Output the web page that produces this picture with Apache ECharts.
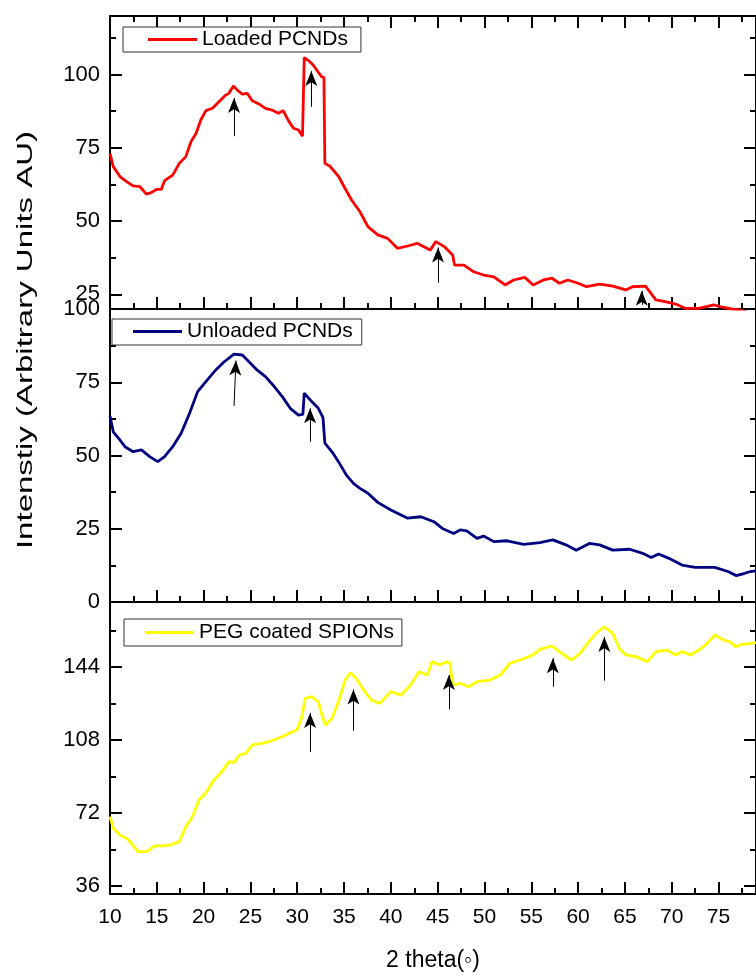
<!DOCTYPE html>
<html><head><meta charset="utf-8">
<script src="https://cdn.jsdelivr.net/npm/echarts@6/dist/echarts.min.js"></script>
<style>html,body{margin:0;padding:0;background:#fff}#c{width:756px;height:976px}</style>
</head><body><div id="c"></div>
<script>
// ---------- data ----------
const loadedTheta = [10,10.35,11.06,11.77,12.47,13.18,13.89,14.4,14.95,15.47,15.83,16.7,17.4,18.1,18.65,19.2,19.7,20.24,20.95,21.66,22.36,22.7,23.18,23.6,24.13,24.66,25.2,25.9,26.6,27.3,28.0,28.5,29.07,29.6,30.13,30.56,30.75,31.2,31.7,32.25,32.6,32.85,32.95,33.5,34.4,35.1,35.8,36.7,37.55,38.6,39.65,40.7,41.8,42.8,44.2,44.8,45.7,46.6,46.8,47.8,48.85,49.9,51.0,52.2,53.1,54.3,55.2,56.3,57.2,58.0,58.9,60.0,60.9,62.3,63.7,65.1,65.8,67.2,68.3,69.3,70.4,71.5,72.9,74.5,75.4,76.4,77.3,78,79];
const loadedIntensity = [73,68.6,65.2,63.5,62,61.8,59.2,59.7,60.8,60.8,63.8,65.7,69.7,72,77.1,80,84.5,87.7,88.5,90.8,93,93.6,96.1,94.7,93.3,93.6,91.1,90,88.5,87.9,86.8,87.7,84.2,81.7,81.1,79,105.8,104.8,103.3,100.8,99.3,99,69.7,68.7,65.3,61.2,57.2,53.2,48.1,45.3,44.1,40.7,41.5,42.4,40.1,43,41.3,38.4,35,35,32.7,31.6,31,28.2,29.9,30.8,28.2,29.9,30.5,28.8,29.9,28.8,27.6,28.5,27.8,26.5,27.6,27.8,23.1,22.5,21.7,20.2,20.2,21.4,20.6,20,19.6,19,18.5];

const unloadedTheta = [10,10.35,11.06,11.6,12.47,13.36,14.24,15.1,15.83,16.7,17.6,18.5,19.36,20.24,21.3,22.2,23.25,24.13,24.84,25.7,26.6,27.5,28.4,29.25,30.13,30.6,30.75,31.55,32.25,32.75,32.95,33.84,34.4,35.25,36.0,36.7,37.55,38.6,40.0,41.8,43.2,44.6,45.5,46.7,47.4,48.1,49.2,49.9,51.0,52.4,54.2,55.9,57.3,58.7,59.8,61.2,62.3,63.7,65.5,66.9,67.8,68.6,69.7,71.1,72.5,74.6,76.0,76.9,77.8,78.4,79];
const unloadedIntensity = [63.5,58.1,55.3,53,51.3,51.9,49.6,47.9,49.6,53,57.6,64.4,71.8,75.2,79.2,82,84.6,84.3,82,79.2,76.9,73.7,70.1,66.1,63.8,64,71.3,68.4,66.1,62.9,54.2,50.7,47.9,43.3,40.5,38.8,37.1,34,31.4,28.6,29.1,27.4,25.1,23.4,24.6,24.3,21.7,22.5,20.6,20.9,19.7,20.3,21.2,19.5,17.7,20,19.5,17.7,18,16.6,15.2,16.4,14.9,12.6,11.8,11.8,10.4,9,9.8,10.4,10.6];

const pegTheta = [10,10.35,11.06,11.8,12.3,13.0,13.9,14.8,15.65,16.5,17.4,18.1,18.8,19.5,20.2,21.1,21.8,22.7,23.25,23.8,24.5,25.2,26.25,26.95,28.0,29.1,29.96,30.5,30.84,31.55,32.25,32.7,33.0,33.7,34.4,35.1,35.7,36.3,37.2,37.9,38.8,40.0,41.1,42.1,43.0,43.9,44.4,45.2,46.0,46.3,46.6,47.4,48.3,49.2,50.6,51.7,52.7,53.8,55.2,55.9,57.2,58.0,59.3,60.2,61.0,61.9,62.8,63.7,64.4,65.1,66.2,67.4,68.3,69.5,70.4,71.1,72.0,72.9,73.8,74.6,75.55,76.25,76.8,77.5,78.5,79];
const pegIntensity = [70.1,64.4,61.1,59.4,57,52.9,52.9,55.7,55.7,56.2,57.8,65.2,70.1,78.4,81.6,88.2,91.5,97.3,96.8,100.5,101.4,105.5,106.3,107.1,108.8,111.2,112.9,119.4,128.5,129.3,126.8,119.4,115.3,118.6,126.8,137.5,141.1,138.3,131.8,127.7,126,131.8,130.1,135.1,141.6,140,146.6,144.9,146.6,146,135.1,135.9,134.2,136.7,137.5,140,145.7,147.4,149.9,152.6,154.3,151.5,147.4,150.7,155.6,160.5,163.8,160.5,153.1,149.9,149,146.6,151.5,152.3,149.9,151.5,149.9,152.3,155.6,159.7,157.2,156.4,154,155.1,155.6,156];

// arrows: [xFrom, yFrom, xTo, yTo]
const loadedArrows = [[23.25,79,23.25,92],[31.5,89,31.5,101.2],[45.04,29,45.04,41],[66.8,21.4,66.8,26.2]];
const unloadedArrows = [[23.25,66.9,23.45,82.4],[31.37,54.7,31.37,66.1]];
const pegArrows = [[31.37,102.1,31.37,121.3],[36.0,112.5,36.0,132.9],[46.2,123,46.2,140],[57.3,134.2,57.3,148.2],[62.8,137.2,62.8,158.8]];

// axis ticks
const loadedYTicks = [25,50,75,100];
const loadedYMinor = [37.5,62.5,87.5,112.5];
const pegYTicks = [36,72,108,144];
const pegYMinor = [54,90,126,162];

// ---------- chart ----------
const FONT = '"Liberation Sans", Arial, sans-serif';
const zip = (a,b) => a.map((v,i)=>[v,b[i]]);
const BLK = '#000';

function xAx(gi, pos, labels) {
  return {
    type:'value', gridIndex:gi, position:pos, min:10, max:79, interval:5,
    axisLine:{show:true, onZero:false, lineStyle:{color:BLK, width:2}},
    axisTick:{show:true, inside:true, length:12, lineStyle:{color:BLK, width:2}},
    minorTick:{show:true, splitNumber:2, length:6, lineStyle:{color:BLK, width:2}},
    splitLine:{show:false},
    axisLabel:{show:labels, color:BLK, fontSize:21, fontFamily:FONT, margin:13, showMaxLabel:false}
  };
}
function yCustom(gi, pos, min, max, vals, len, line, labels) {
  return {
    type:'value', gridIndex:gi, position:pos, min:min, max:max,
    axisLine:{show:line, onZero:false, lineStyle:{color:BLK, width:2}},
    axisTick:{show:true, inside:true, length:len, customValues:vals, lineStyle:{color:BLK, width:2}},
    splitLine:{show:false},
    axisLabel:{show:labels, customValues:vals, color:BLK, fontSize:22, fontFamily:FONT, margin:10}
  };
}
function yInterval(gi, pos, labels) {
  return {
    type:'value', gridIndex:gi, position:pos, min:0, max:100, interval:25,
    axisLine:{show:true, onZero:false, lineStyle:{color:BLK, width:2}},
    axisTick:{show:true, inside:true, length:12, lineStyle:{color:BLK, width:2}},
    minorTick:{show:true, splitNumber:2, length:6, lineStyle:{color:BLK, width:2}},
    splitLine:{show:false},
    axisLabel:{show:labels, color:BLK, fontSize:22, fontFamily:FONT, margin:10}
  };
}
function arrowsML(arr) {
  return {
    silent:true, symbol:['none','arrow'], symbolSize:[9,15], animation:false,
    label:{show:false}, emphasis:{disabled:true},
    lineStyle:{color:BLK, width:1, type:'solid'},
    data: arr.map(a => [{coord:[a[0],a[1]]},{coord:[a[2],a[3]]}])
  };
}
function legendFor(name, left, top, pad) {
  return {
    data:[name], left:left, top:top, orient:'horizontal', selectedMode:false,
    icon:'rect', itemWidth:49, itemHeight:3, padding:pad,
    borderColor:'#333', borderWidth:1, backgroundColor:'#fff',
    textStyle:{color:BLK, fontSize:21, fontFamily:FONT, lineHeight:21}
  };
}

const xAxes = [xAx(0,'bottom',false), xAx(0,'top',false), xAx(1,'bottom',false), xAx(2,'bottom',true)];
xAxes[3].name = '2 theta(\u25E6)';
xAxes[3].nameLocation = 'middle';
xAxes[3].nameGap = 55;
xAxes[3].nameTextStyle = {color:BLK, fontSize:23, fontFamily:FONT};

const yAxes = [
  yCustom(0,'left',20,120,loadedYTicks,12,true,true),
  yCustom(0,'left',20,120,loadedYMinor,6,false,false),
  yCustom(0,'right',20,120,loadedYTicks,12,true,false),
  yCustom(0,'right',20,120,loadedYMinor,6,false,false),
  yInterval(1,'left',true),
  yInterval(1,'right',false),
  yCustom(2,'left',32,176,pegYTicks,12,true,true),
  yCustom(2,'left',32,176,pegYMinor,6,false,false),
  yCustom(2,'right',32,176,pegYTicks,12,true,false),
  yCustom(2,'right',32,176,pegYMinor,6,false,false)
];

const chart = echarts.init(document.getElementById('c'), null, {renderer:'canvas'});
chart.setOption({
  animation:false,
  backgroundColor:'#fff',
  grid:[
    {left:110, top:16, width:651, height:293},
    {left:110, top:309, width:651, height:293},
    {left:110, top:602, width:651, height:292}
  ],
  legend:[
    legendFor('Loaded PCNDs',123,27,[2,13,2,25]),
    legendFor('Unloaded PCNDs',112,319,[2,9,3,21]),
    legendFor('PEG coated SPIONs',124,619,[3,8,3,21])
  ],
  xAxis:xAxes,
  yAxis:yAxes,
  series:[
    {name:'Loaded PCNDs', type:'line', xAxisIndex:0, yAxisIndex:0, data:zip(loadedTheta,loadedIntensity),
     showSymbol:false, symbol:'none', color:'#ff0000', lineStyle:{color:'#ff0000', width:2.8}, markLine:arrowsML(loadedArrows)},
    {name:'Unloaded PCNDs', type:'line', xAxisIndex:2, yAxisIndex:4, data:zip(unloadedTheta,unloadedIntensity),
     showSymbol:false, symbol:'none', color:'#000080', lineStyle:{color:'#000080', width:2.8}, markLine:arrowsML(unloadedArrows)},
    {name:'PEG coated SPIONs', type:'line', xAxisIndex:3, yAxisIndex:6, data:zip(pegTheta,pegIntensity),
     showSymbol:false, symbol:'none', color:'#ffff00', lineStyle:{color:'#ffff00', width:2.8}, markLine:arrowsML(pegArrows)}
  ],
  graphic:[{
    type:'text', x:26, y:340, rotation:Math.PI/2, scaleX:1.5, scaleY:1,
    style:{text:'Intenstiy (Arbitrary Units AU)', fill:BLK, font:'22px ' + FONT, textAlign:'center', textVerticalAlign:'middle'}
  }]
});
</script></body></html>
